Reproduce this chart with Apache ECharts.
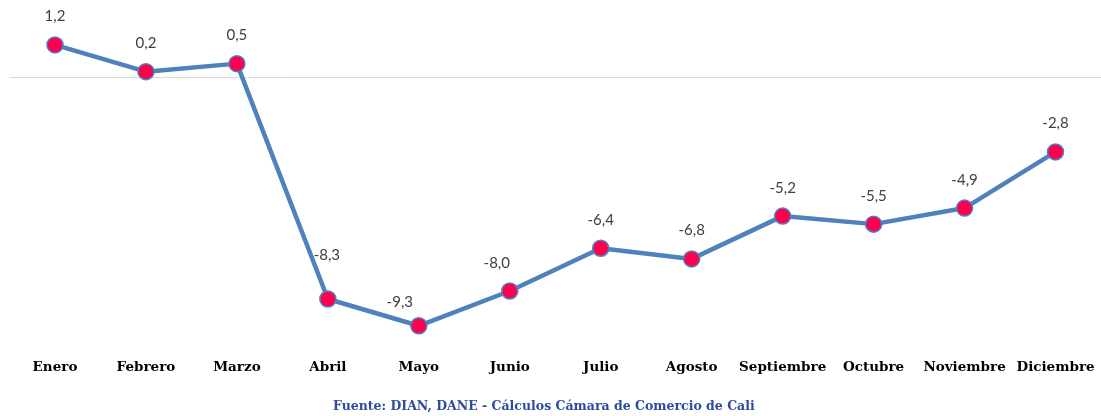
<!DOCTYPE html>
<html>
<head>
<meta charset="utf-8">
<script src="https://cdn.jsdelivr.net/npm/echarts@6/dist/echarts.min.js"></script>
<style>
html,body{margin:0;padding:0;background:#fff;}
#chart{width:1101px;height:416px;}
</style>
</head>
<body>
<div id="chart"></div>
<script>
const months = ['Enero','Febrero','Marzo','Abril','Mayo','Junio','Julio','Agosto','Septiembre','Octubre','Noviembre','Diciembre'];
const values = [1.2, 0.2, 0.5, -8.3, -9.3, -8.0, -6.4, -6.8, -5.2, -5.5, -4.9, -2.8];
const sourceText = 'Fuente: DIAN, DANE - Cálculos Cámara de Comercio de Cali';

const labelShift = {3: [-1, -16], 4: [-19, 5], 5: [-13, 0]};
const chart = echarts.init(document.getElementById('chart'));
chart.setOption({
  animation: false,
  grid: {left: 9.5, right: 0, top: 23.5, height: 321},
  xAxis: {
    type: 'category',
    data: months,
    axisLine: {show: false},
    axisTick: {show: false},
    axisLabel: {
      interval: 0,
      margin: 16,
      color: '#000',
      fontFamily: '"DejaVu Serif", serif',
      fontWeight: 'bold',
      fontSize: 13.5
    }
  },
  yAxis: {
    type: 'value', min: -10, max: 2,
    show: false,
    splitLine: {show: false}
  },
  series: [{
    type: 'line',
    data: values.map((v, i) => ({
      value: v,
      label: labelShift[i] ? {offset: labelShift[i]} : undefined
    })),
    lineStyle: {color: '#4f81bd', width: 4.5},
    symbol: 'circle',
    symbolSize: 16,
    itemStyle: {color: '#ff0050', borderColor: '#4f81bd', borderWidth: 1.5},
    label: {
      show: true,
      position: 'top',
      distance: 12,
      color: '#404040',
      fontFamily: 'Lato, "Noto Sans", sans-serif',
      fontSize: 15,
      formatter: p => p.value.toFixed(1).replace('.', ',')
    },
    markLine: {
      silent: true,
      symbol: 'none',
      label: {show: false},
      lineStyle: {color: '#d9d9d9', width: 1, type: 'solid'},
      data: [{yAxis: 0}],
      z: 1
    },
    z: 3
  }],
  graphic: [{
    type: 'text',
    left: 333,
    top: 400,
    style: {
      text: sourceText,
      fill: '#2f4b9b',
      font: 'bold 12.5px "DejaVu Serif", serif'
    }
  }]
});
</script>
</body>
</html>
